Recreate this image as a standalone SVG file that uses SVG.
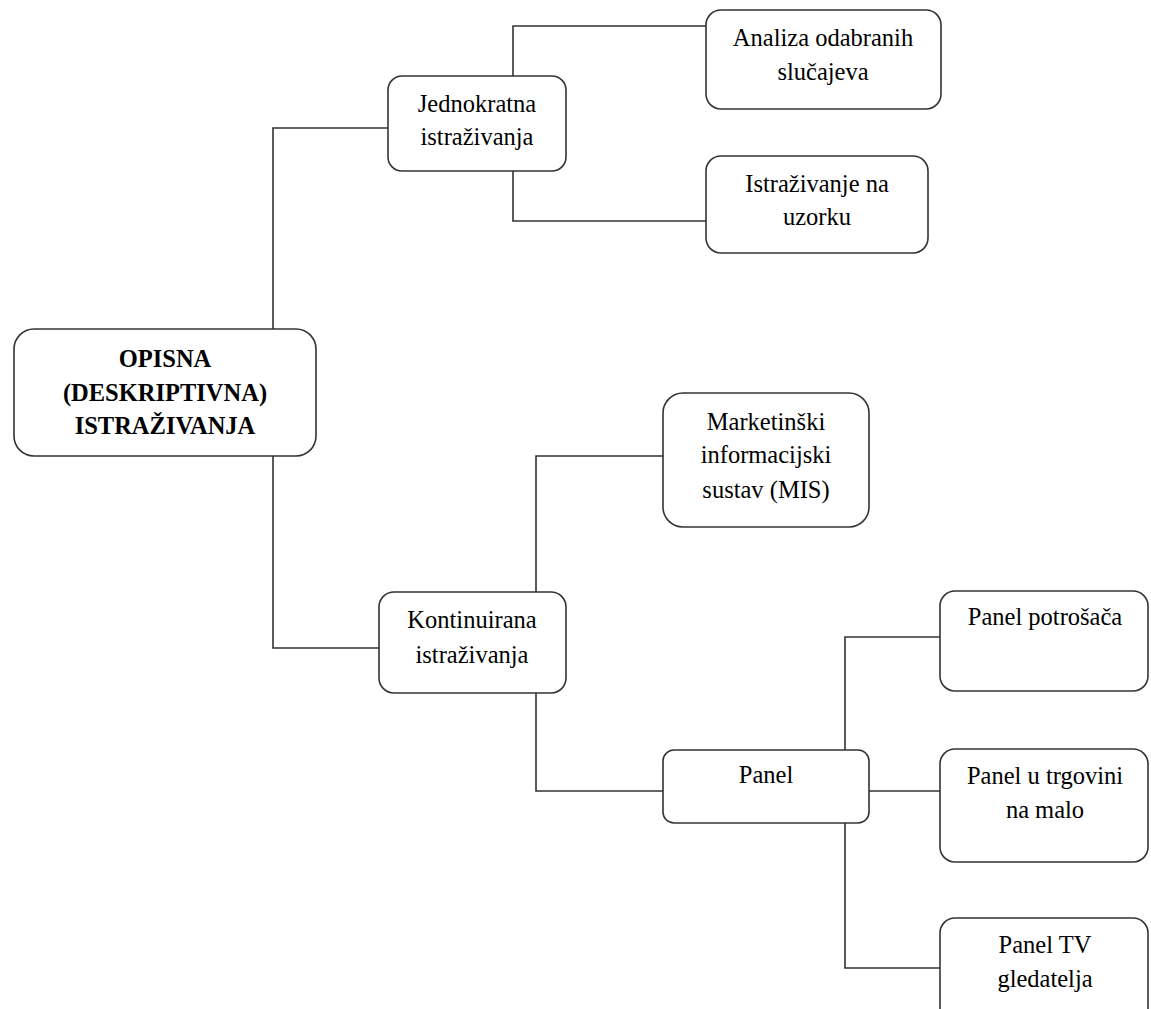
<svg xmlns="http://www.w3.org/2000/svg" width="1151" height="1009" viewBox="0 0 1151 1009">
<style>
.box{fill:#fff;stroke:#333;stroke-width:1.6}
.con{fill:none;stroke:#333;stroke-width:1.6}
text{font-family:"Liberation Serif","Times New Roman",serif;font-size:24.5px;fill:#000;text-anchor:middle}
.b{font-weight:bold}
</style>
<rect width="1151" height="1009" fill="#fff"/>
<g id="connectors">
<path class="con" d="M273,329 V128 H388"/>
<path class="con" d="M273,456 V648 H379"/>
<path class="con" d="M513,76 V26 H706"/>
<path class="con" d="M513,171 V221 H706"/>
<path class="con" d="M536,592 V456 H663"/>
<path class="con" d="M536,693 V791 H663"/>
<path class="con" d="M845,750 V637 H940"/>
<path class="con" d="M869,791 H940"/>
<path class="con" d="M845,823 V968 H940"/>
</g>
<g id="root">
<rect class="box" x="14" y="329" width="302" height="127" rx="20"/>
<text class="b" x="165" y="367">OPISNA</text>
<text class="b" x="165" y="401">(DESKRIPTIVNA)</text>
<text class="b" x="165" y="434">ISTRAŽIVANJA</text>
</g>
<g id="jednokratna">
<rect class="box" x="388" y="76" width="178" height="95" rx="14"/>
<text x="477" y="112">Jednokratna</text>
<text x="477" y="145">istraživanja</text>
</g>
<g id="analiza">
<rect class="box" x="706" y="10" width="235" height="99" rx="15"/>
<text x="823" y="46">Analiza odabranih</text>
<text x="823" y="80">slučajeva</text>
</g>
<g id="istrazivanje">
<rect class="box" x="706" y="156" width="222" height="97" rx="15"/>
<text x="817" y="192">Istraživanje na</text>
<text x="817" y="225">uzorku</text>
</g>
<g id="kontinuirana">
<rect class="box" x="379" y="592" width="187" height="101" rx="15"/>
<text x="472" y="628">Kontinuirana</text>
<text x="472" y="663">istraživanja</text>
</g>
<g id="mis">
<rect class="box" x="663" y="393" width="206" height="134" rx="20"/>
<text x="766" y="430">Marketinški</text>
<text x="766" y="463">informacijski</text>
<text x="766" y="498">sustav (MIS)</text>
</g>
<g id="panel">
<rect class="box" x="663" y="750" width="206" height="73" rx="11"/>
<text x="766" y="783">Panel</text>
</g>
<g id="panel-potrosaca">
<rect class="box" x="940" y="591" width="208" height="100" rx="15"/>
<text x="1045" y="625">Panel potrošača</text>
</g>
<g id="panel-trgovina">
<rect class="box" x="940" y="749" width="208" height="113" rx="15"/>
<text x="1045" y="784">Panel u trgovini</text>
<text x="1045" y="818">na malo</text>
</g>
<g id="panel-tv">
<rect class="box" x="940" y="918" width="208" height="110" rx="15"/>
<text x="1045" y="953">Panel TV</text>
<text x="1045" y="987">gledatelja</text>
</g>
</svg>
